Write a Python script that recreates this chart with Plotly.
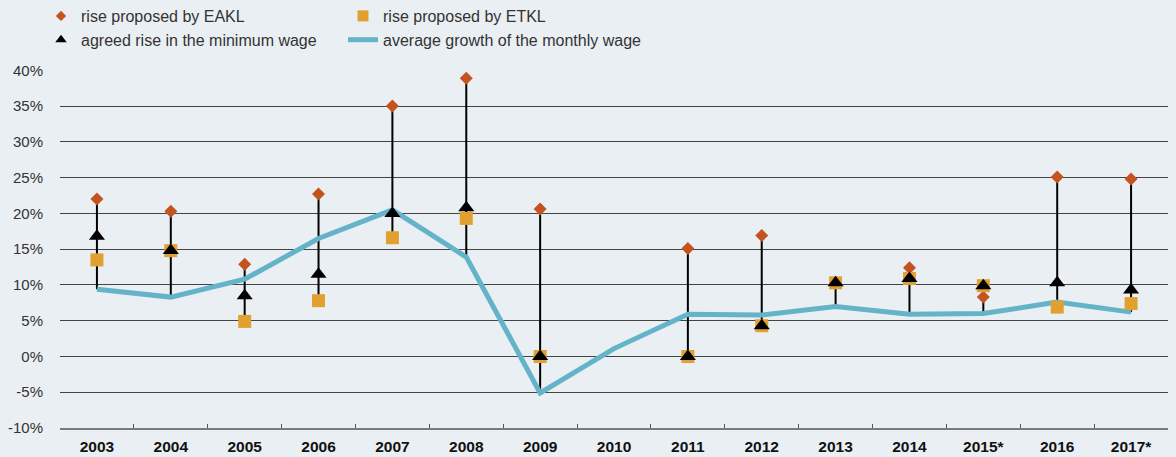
import plotly.graph_objects as go

years = ["2003", "2004", "2005", "2006", "2007", "2008", "2009", "2010",
         "2011", "2012", "2013", "2014", "2015*", "2016", "2017*"]

# proposed / agreed rises and average monthly wage growth, %
eakl = [22.0, 20.3, 12.9, 22.7, 35.0, 38.9, 20.6, None,
        15.1, 16.9, 10.3, 12.4, 8.3, 25.1, 24.8]
etkl = [13.5, 14.8, 4.9, 7.8, 16.6, 19.3, 0.0, None,
        0.0, 4.3, 10.3, 10.9, 9.9, 6.9, 7.4]
agreed = [16.8, 14.8, 8.5, 11.5, 20.0, 20.8, 0.0, None,
          0.0, 4.3, 10.3, 10.9, 9.9, 10.3, 9.3]
avg_wage = [9.4, 8.3, 10.8, 16.5, 20.5, 13.9, -5.1, 1.1,
            5.9, 5.8, 7.0, 5.9, 6.0, 7.6, 6.2]

y_ticks = [-10, -5, 0, 5, 10, 15, 20, 25, 30, 35, 40]
y_tick_labels = [f"{v}%" for v in y_ticks]

BG = "#EAEFF3"
FONT = "Liberation Sans, Arial, sans-serif"
C_EAKL = "#C4531F"
C_ETKL = "#E2A030"
C_AVG = "#64B3C9"

# vertical range bars spanning all values of each year
vx, vy = [], []
for i, yr in enumerate(years):
    vals = [v for v in (eakl[i], etkl[i], agreed[i], avg_wage[i]) if v is not None]
    if len(vals) > 1:
        vx += [yr, yr, None]
        vy += [min(vals), max(vals), None]

fig = go.Figure()
fig.add_trace(go.Scatter(x=vx, y=vy, mode="lines", line=dict(color="#000000", width=2),
                         showlegend=False, hoverinfo="skip"))
fig.add_trace(go.Scatter(x=years, y=avg_wage, mode="lines", name="average growth of the monthly wage",
                         line=dict(color=C_AVG, width=5), showlegend=False))
fig.add_trace(go.Scatter(x=years, y=eakl, mode="markers", name="rise proposed by EAKL",
                         marker=dict(symbol="diamond", size=10, color=C_EAKL), showlegend=False))
fig.add_trace(go.Scatter(x=years, y=etkl, mode="markers", name="rise proposed by ETKL",
                         marker=dict(symbol="square", size=13, color=C_ETKL), showlegend=False))
fig.add_trace(go.Scatter(x=years, y=agreed, mode="markers", name="agreed rise in the minimum wage",
                         marker=dict(symbol="triangle-up", size=14, color="#000000"), showlegend=False))

# legend entries with smaller symbols
fig.add_trace(go.Scatter(x=[None], y=[None], mode="markers", name="rise proposed by EAKL",
                         marker=dict(symbol="diamond", size=8, color=C_EAKL),
                         legend="legend", legendrank=1))
fig.add_trace(go.Scatter(x=[None], y=[None], mode="markers", name="agreed rise in the minimum wage",
                         marker=dict(symbol="triangle-up", size=10, color="#000000"),
                         legend="legend", legendrank=2))
fig.add_trace(go.Scatter(x=[None], y=[None], mode="markers", name="rise proposed by ETKL",
                         marker=dict(symbol="square", size=11, color=C_ETKL),
                         legend="legend2", legendrank=1))
fig.add_trace(go.Scatter(x=[None], y=[None], mode="lines", name="average growth of the monthly wage",
                         line=dict(color=C_AVG, width=5),
                         legend="legend2", legendrank=2))

legend_common = dict(orientation="v", yanchor="top", xanchor="left", bgcolor="rgba(0,0,0,0)",
                     font=dict(family=FONT, size=16, color="#333333"),
                     tracegroupgap=0, itemwidth=30, traceorder="normal")

plot_w = 1176 - 60 - 8
plot_h = 457 - 70 - 29

fig.update_layout(
    width=1176, height=457,
    paper_bgcolor=BG, plot_bgcolor=BG,
    margin=dict(l=60, r=8, t=70, b=29, autoexpand=False),
    font=dict(family=FONT, size=15, color="#333333"),
    legend=dict(x=(41 - 60) / plot_w, y=1 + 71 / plot_h, **legend_common),
    legend2=dict(x=(343 - 60) / plot_w, y=1 + 71 / plot_h, **legend_common),
    showlegend=True,
)
fig.update_xaxes(type="category", categoryorder="array", categoryarray=years,
                 showgrid=False, showline=True, linecolor="#7A7A7A", linewidth=2,
                 tickson="boundaries", ticks="inside", ticklen=4, tickcolor="#555555",
                 tickangle=0, ticklabelstandoff=3,
                 tickfont=dict(family=FONT, size=15.5, color="#111111", weight="bold"),
                 range=[-0.5, 14.5], zeroline=False)
fig.update_yaxes(range=[-10, 40.05], tickmode="array", tickvals=y_ticks, ticktext=y_tick_labels,
                 showgrid=True, gridcolor="#444444", gridwidth=1,
                 zeroline=False, showline=False, ticks="", ticklabelstandoff=16,
                 tickfont=dict(family=FONT, size=15, color="#333333"))

fig.write_html("out.html")
